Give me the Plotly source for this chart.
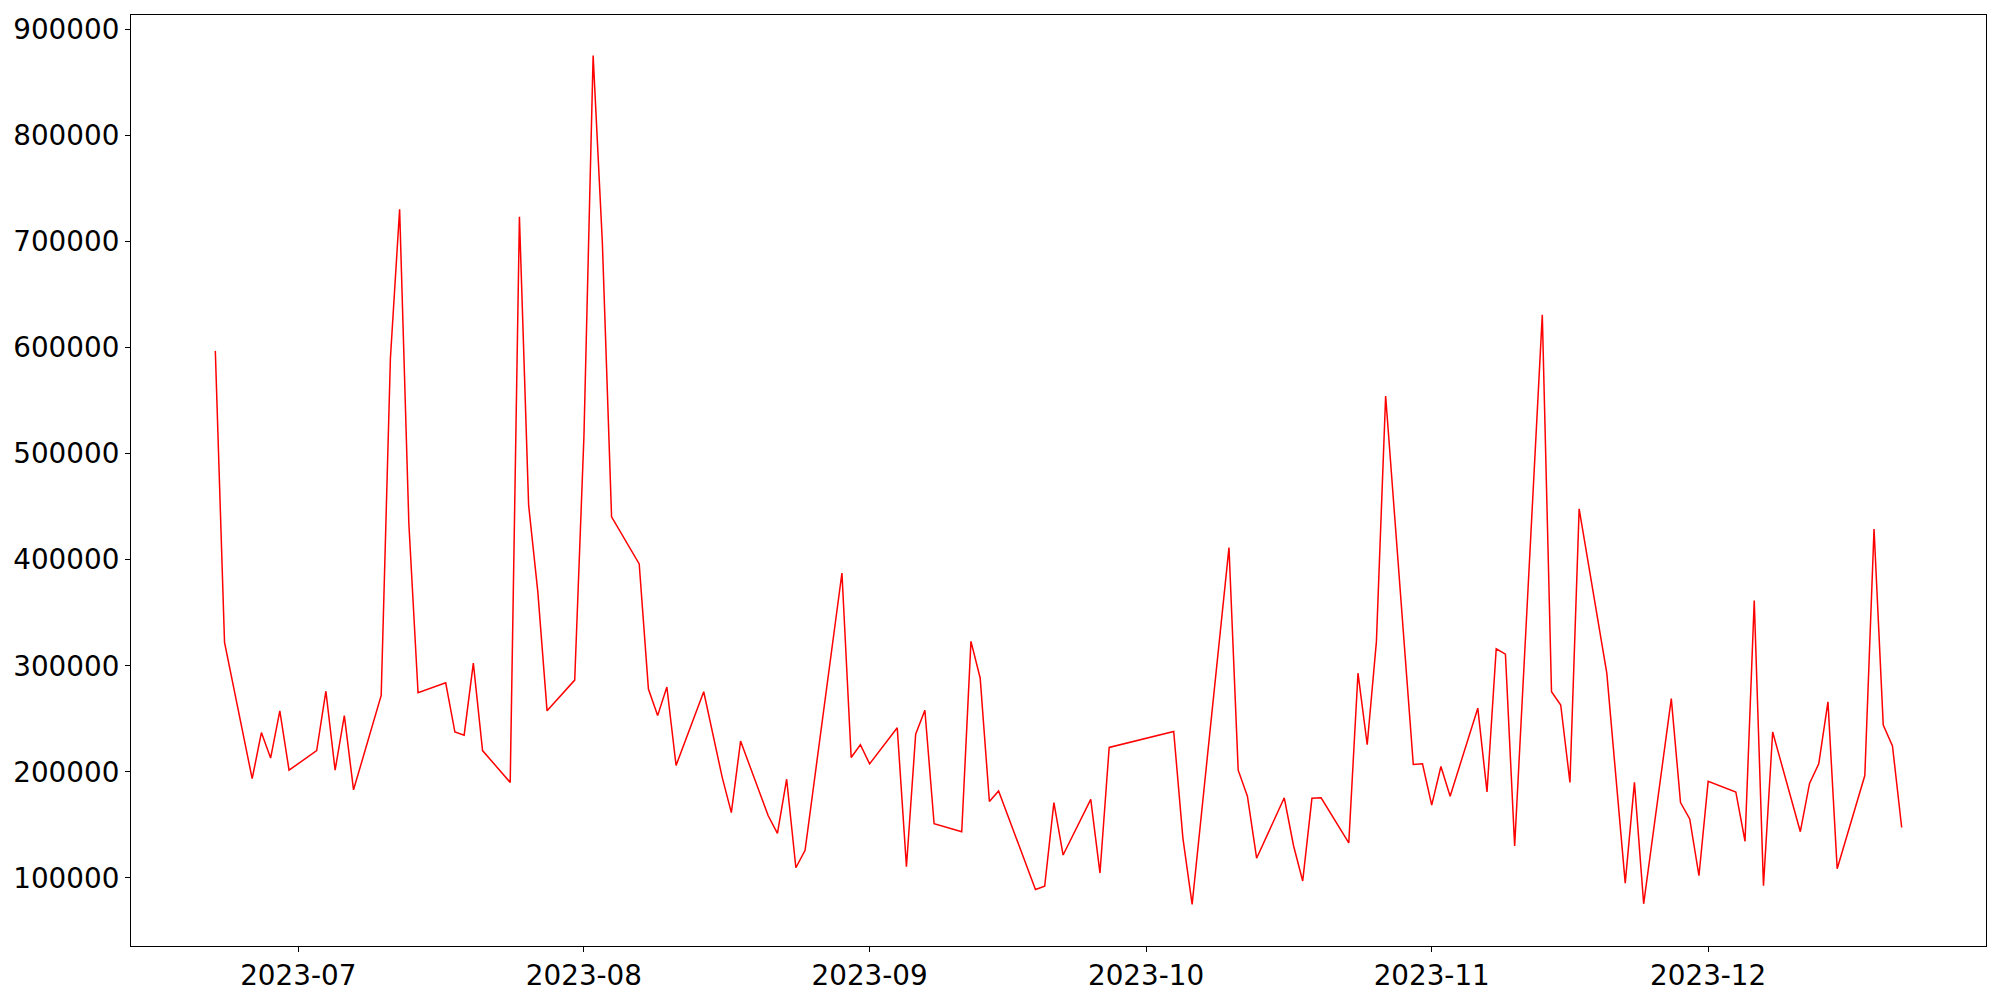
import plotly.graph_objects as go

dates = [
    "2023-06-22", "2023-06-23", "2023-06-26", "2023-06-27", "2023-06-28", "2023-06-29", "2023-06-30",
    "2023-07-03", "2023-07-04", "2023-07-05", "2023-07-06", "2023-07-07",
    "2023-07-10", "2023-07-11", "2023-07-12", "2023-07-13", "2023-07-14",
    "2023-07-17", "2023-07-18", "2023-07-19", "2023-07-20", "2023-07-21",
    "2023-07-24", "2023-07-25", "2023-07-26", "2023-07-27", "2023-07-28",
    "2023-07-31", "2023-08-01", "2023-08-02", "2023-08-03", "2023-08-04",
    "2023-08-07", "2023-08-08", "2023-08-09", "2023-08-10", "2023-08-11",
    "2023-08-14", "2023-08-16", "2023-08-17", "2023-08-18",
    "2023-08-21", "2023-08-22", "2023-08-23", "2023-08-24", "2023-08-25",
    "2023-08-29", "2023-08-30", "2023-08-31", "2023-09-01",
    "2023-09-04", "2023-09-05", "2023-09-06", "2023-09-07", "2023-09-08",
    "2023-09-11", "2023-09-12", "2023-09-13", "2023-09-14", "2023-09-15",
    "2023-09-19", "2023-09-20", "2023-09-21", "2023-09-22",
    "2023-09-25", "2023-09-26", "2023-09-27",
    "2023-10-04", "2023-10-05", "2023-10-06",
    "2023-10-10", "2023-10-11", "2023-10-12", "2023-10-13",
    "2023-10-16", "2023-10-17", "2023-10-18", "2023-10-19", "2023-10-20",
    "2023-10-23", "2023-10-24", "2023-10-25", "2023-10-26", "2023-10-27",
    "2023-10-30", "2023-10-31", "2023-11-01", "2023-11-02", "2023-11-03",
    "2023-11-06", "2023-11-07", "2023-11-08", "2023-11-09", "2023-11-10",
    "2023-11-13", "2023-11-14", "2023-11-15", "2023-11-16", "2023-11-17",
    "2023-11-20", "2023-11-22", "2023-11-23", "2023-11-24",
    "2023-11-27", "2023-11-28", "2023-11-29", "2023-11-30", "2023-12-01",
    "2023-12-04", "2023-12-05", "2023-12-06", "2023-12-07", "2023-12-08",
    "2023-12-11", "2023-12-12", "2023-12-13", "2023-12-14", "2023-12-15",
    "2023-12-18", "2023-12-19", "2023-12-20", "2023-12-21", "2023-12-22",
]

values = [
    597000, 322000, 193500, 237000, 213000, 257500, 201500,
    220000, 276000, 201500, 253000, 183000,
    272000, 590000, 730500, 434500, 274500,
    284000, 237500, 234500, 302500, 220000,
    190000, 723500, 451500, 369500, 257500,
    286500, 516000, 875500, 699500, 440500,
    396000, 278000, 253000, 280000, 206000,
    275500, 195000, 161500, 229000,
    158500, 142000, 193000, 109500, 126000,
    387500, 213500, 225500, 207500,
    241500, 110500, 235500, 258000, 151000,
    143500, 323000, 288500, 172000, 182000,
    89000, 92000, 171000, 121500,
    174000, 104500, 223000,
    238000, 137500, 75000,
    411500, 201500, 177000, 118500,
    175500, 130500, 97000, 175000, 175500,
    133000, 293000, 225500, 323000, 554500,
    207000, 207500, 168500, 205000, 177000,
    260000, 181000, 316000, 311000, 130000,
    631000, 275500, 263000, 190000, 448000,
    293000, 95000, 190000, 75500,
    269000, 171000, 155500, 102000, 191000,
    181000, 134500, 361500, 92500, 237500,
    143500, 189000, 207500, 266000, 108500,
    196500, 429000, 244000, 224500, 147500,
]

x_tick_vals = ["2023-07-01", "2023-08-01", "2023-09-01", "2023-10-01", "2023-11-01", "2023-12-01"]
x_tick_text = ["2023-07", "2023-08", "2023-09", "2023-10", "2023-11", "2023-12"]
y_tick_vals = [100000, 200000, 300000, 400000, 500000, 600000, 700000, 800000, 900000]
y_tick_text = [str(v) for v in y_tick_vals]

fig = go.Figure()
fig.add_trace(go.Scatter(
    x=dates, y=values, mode="lines",
    line=dict(color="#ff0000", width=1.5),
    showlegend=False,
))

font = dict(family="DejaVu Sans", size=27.8, color="black")

fig.update_layout(
    width=2000, height=1000,
    margin=dict(l=131, r=14, t=15, b=54, pad=0),
    paper_bgcolor="white", plot_bgcolor="white",
    font=font,
    showlegend=False,
)
fig.update_xaxes(
    type="date", automargin=False,
    range=["2023-06-12 20:24", "2023-12-31 03:36"],
    tickmode="array", tickvals=x_tick_vals, ticktext=x_tick_text,
    ticks="outside", ticklen=5, tickwidth=1.1, tickcolor="black",
    showline=True, linecolor="black", linewidth=1.1, mirror=True,
    showgrid=False, zeroline=False, tickfont=font,
)
fig.update_yaxes(
    automargin=False,
    range=[35700, 913800],
    tickmode="array", tickvals=y_tick_vals, ticktext=y_tick_text,
    ticks="outside", ticklen=5, tickwidth=1.1, tickcolor="black",
    showline=True, linecolor="black", linewidth=1.1, mirror=True,
    showgrid=False, zeroline=False, tickfont=font,
)

fig.write_html(
    "out.html",
    config={"displayModeBar": False},
    post_script="document.body.style.margin='0';document.body.style.padding='0';",
)
